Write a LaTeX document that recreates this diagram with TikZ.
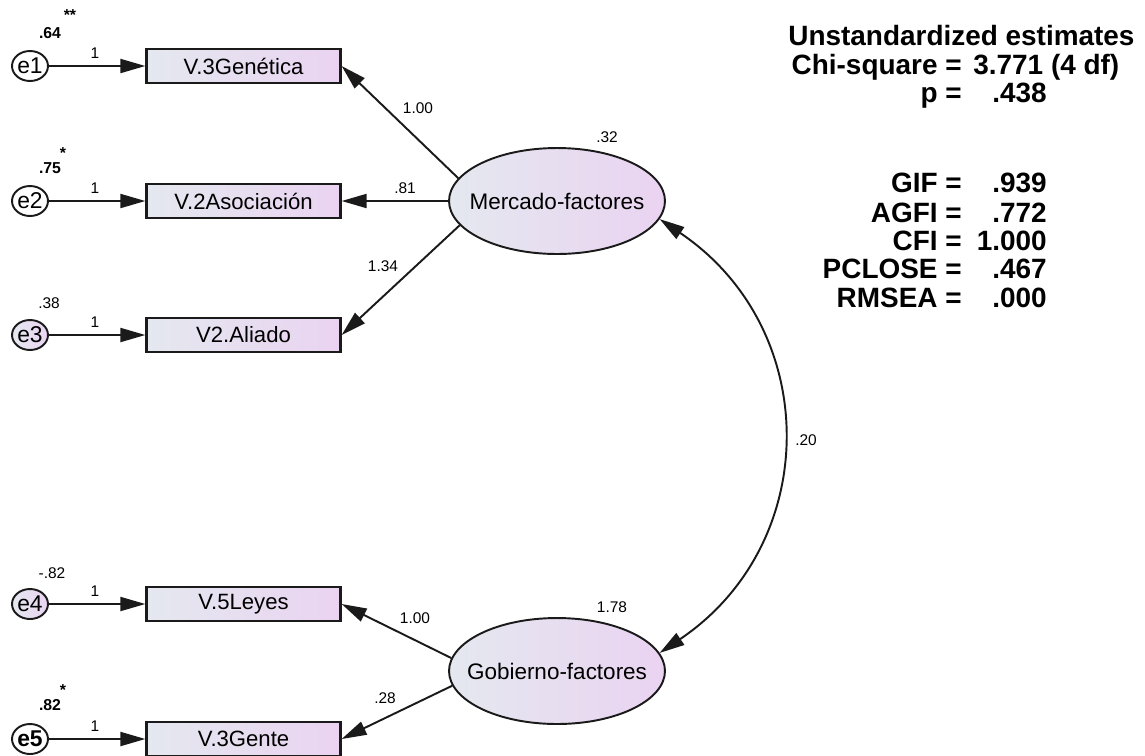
\documentclass[tikz,border=0pt]{standalone}
\usepackage{fontspec}
\setmainfont{Liberation Sans}
\usetikzlibrary{arrows.meta,shapes.geometric}
\definecolor{PathLeft}{HTML}{E4E8EF}
\definecolor{PathRight}{HTML}{EAD3F1}
\definecolor{PathInk}{HTML}{1A1A1A}

\begin{document}
\begin{tikzpicture}[x=0.02cm,y=-0.02cm,
    obs/.style={draw=PathInk,line width=1.3pt,left color=PathLeft,right color=PathRight,
      minimum width=3.88cm,minimum height=0.68cm,inner sep=0pt,font=\fontsize{12.6}{14}\selectfont},
    lat/.style={ellipse,draw=PathInk,line width=1.1pt,left color=PathLeft,right color=PathRight,
      minimum width=4.32cm,minimum height=2.12cm,inner sep=0pt},
    lattext/.style={inner sep=0pt,font=\fontsize{12.8}{14}\selectfont},
    err/.style={ellipse,draw=PathInk,line width=1.1pt,fill=white,
      minimum width=0.72cm,minimum height=0.6cm,inner sep=0pt,font=\fontsize{13}{14}\selectfont},
    errfill/.style={err,left color=PathLeft,right color=PathRight},
    est/.style={inner sep=0pt,font=\fontsize{8.8}{10}\selectfont},
    estb/.style={inner sep=0pt,font=\fontsize{9}{10}\selectfont\bfseries},
    fitidx/.style={inner sep=0pt,font=\fontsize{15.9}{18}\selectfont\bfseries},
    load/.style={draw=PathInk,line width=1.1pt,-{Triangle[length=0.5cm,width=0.28cm]}},
  ]
  \useasboundingbox (0,0) rectangle (1145,755);

  \node[obs] (gen) at (243.5,66) {V.3Genética};
  \node[obs] (aso) at (243.5,201) {V.2Asociación};
  \node[obs] (ali) at (243.5,335) {V2.Aliado};
  \node[obs] (ley) at (243.5,604) {V.5Leyes};
  \node[obs] (gen2) at (243.5,739) {V.3Gente};

  \node[err] (e1) at (30,66) {e1};
  \node[err] (e2) at (30,201) {e2};
  \node[errfill] (e3) at (30,335) {e3};
  \node[errfill] (e4) at (30,604) {e4};
  \node[err,font=\fontsize{13}{14}\selectfont\bfseries] (e5) at (30,739) {e5};

  \node[lat] (mer) at (557,201) {};
  \node[lattext] at (mer) {Mercado-factores};
  \node[lat] (gob) at (557,671) {};
  \node[lattext] at (gob) {Gobierno-factores};

  \foreach \e/\v in {e1/gen,e2/aso,e3/ali,e4/ley,e5/gen2}
    \draw[load] (\e) -- (\v);

  \draw[load] (mer.167) -- (gen.east);
  \draw[load] (mer.west) -- (aso.east);
  \draw[load] (mer.194) -- (ali.east);
  \draw[load] (gob.173) -- (ley.east);
  \draw[load] (gob.188) -- (gen2.east);
  \draw[load,{Triangle[length=0.5cm,width=0.28cm]}-{Triangle[length=0.5cm,width=0.28cm]}]
    (mer.-10) to[bend left=56,looseness=1.16] (gob.10);

  \foreach \y in {66,201,335,604,739}
    \node[est] at (95,\y-13) {1};

  \node[estb] at (50,33) {.64};
  \node[estb] at (70,15) {**};
  \node[estb] at (50,168) {.75};
  \node[estb] at (63,153) {*};
  \node[est] at (49,303) {.38};
  \node[est] at (52,573) {-.82};
  \node[estb] at (50,705) {.82};
  \node[estb] at (63,690) {*};

  \node[est] at (418,108) {1.00};
  \node[est] at (405,188) {.81};
  \node[est] at (383,266) {1.34};
  \node[est] at (415,618) {1.00};
  \node[est] at (385,698) {.28};
  \node[est] at (607,137) {.32};
  \node[est] at (612,607) {1.78};
  \node[est] at (806,440) {.20};

  \node[fitidx,anchor=base west] at (788,45) {Unstandardized estimates};
  \node[fitidx,anchor=base east] at (962,74) {Chi-square =};
  \node[fitidx,anchor=base west] at (973,74) {3.771 (4 df)};
  \node[fitidx,anchor=base east] at (962,102) {p =};
  \node[fitidx,anchor=base east] at (1047,102) {.438};
  \node[fitidx,anchor=base east] at (962,192) {GIF =};
  \node[fitidx,anchor=base east] at (1047,192) {.939};
  \node[fitidx,anchor=base east] at (962,222) {AGFI =};
  \node[fitidx,anchor=base east] at (1047,222) {.772};
  \node[fitidx,anchor=base east] at (962,250) {CFI =};
  \node[fitidx,anchor=base east] at (1047,250) {1.000};
  \node[fitidx,anchor=base east] at (962,278) {PCLOSE =};
  \node[fitidx,anchor=base east] at (1047,278) {.467};
  \node[fitidx,anchor=base east] at (962,307) {RMSEA =};
  \node[fitidx,anchor=base east] at (1047,307) {.000};
\end{tikzpicture}
\end{document}
